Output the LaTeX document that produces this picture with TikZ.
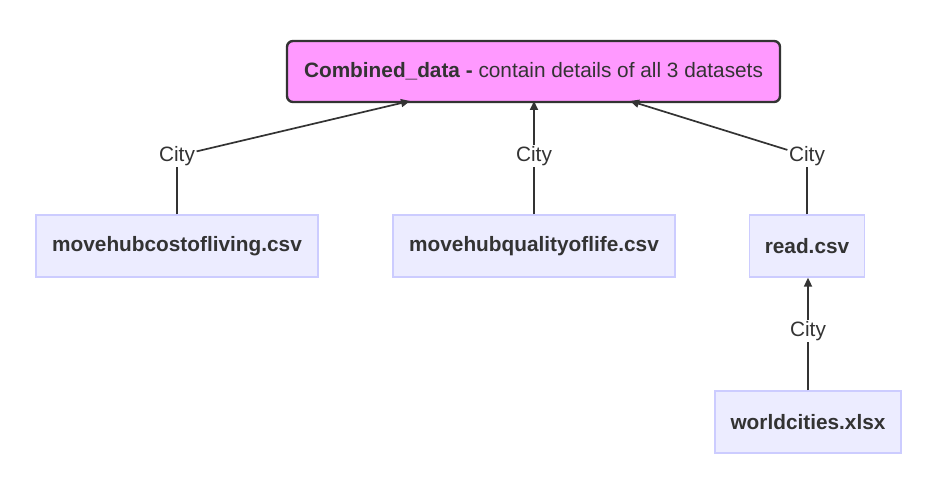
\documentclass[tikz,border=0pt]{standalone}
\usepackage{fontspec}
\setmainfont{Liberation Sans}
\usetikzlibrary{arrows.meta}
\definecolor{ink}{HTML}{333333}
\definecolor{pinkfill}{HTML}{FF99FF}
\definecolor{boxfill}{HTML}{ECECFF}
\definecolor{boxline}{HTML}{CCCCFF}
\begin{document}
\begin{tikzpicture}[
	x=1pt, y=-1pt,
	mainbox/.style={ draw=ink, line width=2.4pt, fill=pinkfill, rounded corners=6pt, minimum width=493pt, minimum height=61pt, inner sep=0pt, text=ink, font=\fontsize{20.8}{25}\selectfont },
	filebox/.style={ draw=boxline, line width=1.3pt, fill=boxfill, minimum height=62pt, inner sep=0pt, text=ink, font=\fontsize{20.8}{25}\selectfont\bfseries },
	keylabel/.style={ inner sep=1.5pt, text=ink, font=\fontsize{20.8}{25}\selectfont },
	link/.style={ draw=ink, line width=1.7pt },
	linkarrow/.style={ link, -{Triangle[length=9pt,width=8pt]} }
]
\useasboundingbox (0,0) rectangle (945,481);

\node at (533.5,71.5) (combined) [mainbox] {\textbf{Combined\_data -} contain details of all 3 datasets};

\node at (177,246) (cost) [filebox,minimum width=282pt] {movehubcostofliving.csv};
\node at (534,246) (quality) [filebox,minimum width=282pt] {movehubqualityoflife.csv};
\node at (807,246) (readcsv) [filebox,minimum width=115pt] {read.csv};
\node at (808,422) (world) [filebox,minimum width=186pt] {worldcities.xlsx};

\node at (177,156) (cityA) [keylabel] {City};
\node at (534,156) (cityB) [keylabel] {City};
\node at (807,156) (cityC) [keylabel] {City};
\node at (808,331) (cityD) [keylabel] {City};

\coordinate (inA) at (410,101);
\coordinate (inB) at (534,101);
\coordinate (inC) at (630,101);

\foreach \f/\c in {cost/cityA,quality/cityB,readcsv/cityC,world/cityD} \draw[link] (\f) -- (\c);
\foreach \c/\t in {cityA/inA,cityB/inB,cityC/inC} \draw[linkarrow] (\c) -- (\t);
\draw[linkarrow] (cityD) -- (readcsv.south -| cityD);

\end{tikzpicture}
\end{document}
